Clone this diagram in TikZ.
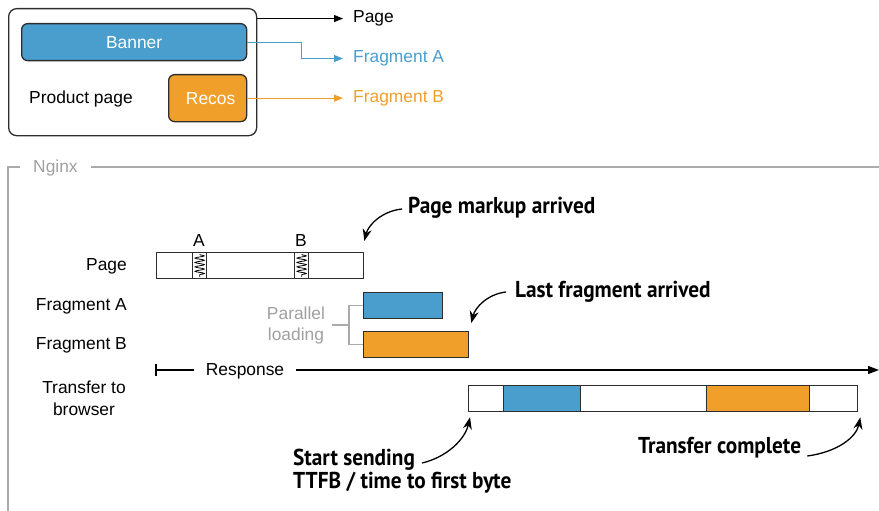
\documentclass[tikz,border=0pt]{standalone}
\usepackage{fontspec}
\setmainfont{Liberation Sans}
\newfontfamily\annfont[FakeStretch=0.925]{PT Sans}
\usetikzlibrary{arrows.meta,decorations.pathmorphing}
\definecolor{fragblue}{RGB}{74,158,206}
\definecolor{fragorange}{RGB}{240,160,42}
\definecolor{framegray}{RGB}{170,170,170}
\definecolor{textgray}{RGB}{160,160,160}
\definecolor{outline}{RGB}{45,45,45}
\begin{document}
\begin{tikzpicture}[x=1pt,y=-1pt,
  lbl/.style={font=\fontsize{17.4}{21}\selectfont, inner sep=0pt},
  ann/.style={font=\annfont\bfseries\fontsize{23}{25}\selectfont, inner sep=0pt},
  bar/.style={draw=outline, line width=1.3pt, inner sep=0pt, anchor=north west, minimum height=26pt},
  annarrow/.style={line width=1.3pt, -{Stealth[length=12pt,width=9pt]}},
  toparrow/.style={line width=1pt, -{Triangle[length=9pt,width=7pt]}},
  respline/.style={line width=1.3pt},
  bracket/.style={framegray, line width=1.3pt},
  frag/.style={draw=outline, line width=1.3pt, rounded corners=6pt, text=white, inner sep=0pt, anchor=north west, font=\fontsize{17.4}{21}\selectfont},
  squiggle/.style={line width=0.8pt, decorate, decoration={snake, amplitude=4.6pt, segment length=4.4pt}}
]
\useasboundingbox (0,0) rectangle (879,511);

% ---- top: product page ----
\node[draw=outline, line width=1.3pt, rounded corners=8pt, minimum width=248pt, minimum height=127pt, inner sep=0pt, anchor=north west] (pp) at (8,8) {};
\node[frag, fill=fragblue, minimum width=225pt, minimum height=37pt] (banner) at (21,23) {Banner};
\node[frag, fill=fragorange, minimum width=78pt, minimum height=47pt] (recos) at (168,74) {\hspace*{6pt}Recos};
\node[lbl, anchor=base west] (ptext) at (29,103) {Product page};

\node[lbl, anchor=base west] (pagetgt) at (353,22.7) {Page};
\node[lbl, anchor=base west, text=fragblue] (fatgt) at (353,62.7) {Fragment A};
\node[lbl, anchor=base west, text=fragorange] (fbtgt) at (353,102.7) {Fragment B};

\draw[toparrow] (pp.east |- pagetgt.west) -- ([xshift=-10pt]pagetgt.west);
\draw[toparrow, fragblue] (banner.east) -- ++(54,0) |- ([xshift=-10pt]fatgt.west);
\draw[toparrow, fragorange] (recos.east) -- ([xshift=-10pt]fbtgt.west |- recos.east);

% ---- Nginx frame ----
\node[lbl, anchor=base west, text=textgray] (nginx) at (33,172.7) {Nginx};
\draw[bracket] ([xshift=-13pt]nginx.west |- 0,167) -- (8,167) -- (8,511);
\draw[bracket] ([xshift=13pt]nginx.east |- 0,167) -- (879,167);

% ---- row labels ----
\node[lbl, anchor=base east] (lpage) at (127,270.7) {Page};
\node[lbl, anchor=base east] (lfa) at (127,310.7) {Fragment A};
\node[lbl, anchor=base east] (lfb) at (127,349.3) {Fragment B};
\node[lbl, anchor=north, align=center, font=\fontsize{17.4}{22}\selectfont] (ltr) at (84,380.5) {Transfer to\\browser};

% ---- page bar ----
\node[bar, minimum width=207pt] (pagebar) at (156,252) {};
\node[bar, minimum width=14pt] (pha) at (192,252) {};
\node[bar, minimum width=14pt] (phb) at (294,252) {};
\draw[squiggle] ([yshift=-2.5pt]pha.north) -- ([yshift=2.5pt]pha.south);
\draw[squiggle] ([yshift=-2.5pt]phb.north) -- ([yshift=2.5pt]phb.south);
\node[lbl, anchor=base] (la) at (199,246.7) {A};
\node[lbl, anchor=base] (lb) at (301,246.7) {B};

% ---- fragment bars ----
\node[bar, fill=fragblue, minimum width=79pt] (fabar) at (363,292) {};
\node[bar, fill=fragorange, minimum width=105pt] (fbbar) at (363,331) {};

\node[lbl, text=textgray, align=center] (par) at (296,325) {Parallel\\loading};
\draw[bracket] ([xshift=7pt]par.east) -- ([xshift=-14pt]fabar.west |- par.east);
\draw[bracket] (fabar.west) -- ++(-14,0) |- (fbbar.west);

% ---- response ----
\node[lbl, anchor=base] (resp) at (245,375) {Response};
\coordinate (rstart) at (156,370);
\coordinate (rend) at (879,370);
\draw[respline] ([yshift=6pt]rstart) -- ([yshift=-6pt]rstart);
\draw[respline] (rstart) -- ([xshift=-12pt]resp.west |- rstart);
\draw[respline, -{Triangle[length=11pt,width=8pt]}] ([xshift=12pt]resp.east |- rend) -- (rend);

% ---- transfer bar ----
\node[bar, minimum width=389pt] (tbar) at (468,385) {};
\node[bar, fill=fragblue, minimum width=77pt] (tba) at (503,385) {};
\node[bar, fill=fragorange, minimum width=103pt] (tbb) at (706,385) {};

% ---- annotations ----
\node[ann, anchor=base west] (pma) at (408,213) {Page markup arrived};
\draw[annarrow] ([xshift=-6pt,yshift=4pt]pma.base west) .. controls +(-20,2) and +(4,-16) .. ([yshift=11pt]pagebar.north east);

\node[ann, anchor=base west] (lfarr) at (515,297) {Last fragment arrived};
\draw[annarrow] ([xshift=-9pt,yshift=5pt]lfarr.base west) .. controls +(-18,2) and +(4,-16) .. ([xshift=2pt,yshift=8pt]fbbar.north east);

\node[ann, anchor=base west] (ss) at (293,465) {Start sending};
\node[ann, anchor=base west] (ttfb) at (293,488) {TTFB / time to first byte};
\draw[annarrow] ([xshift=7pt,yshift=2pt]ss.base east) .. controls +(25,-6) and +(-5,22) .. ([xshift=2pt,yshift=-5pt]tbar.south west);

\node[ann, anchor=base west] (tc) at (638,453) {Transfer complete};
\draw[annarrow] ([xshift=6pt,yshift=-3pt]tc.base east) .. controls +(30,-4) and +(-4,20) .. ([xshift=2pt,yshift=-5pt]tbar.south east);
\end{tikzpicture}
\end{document}
